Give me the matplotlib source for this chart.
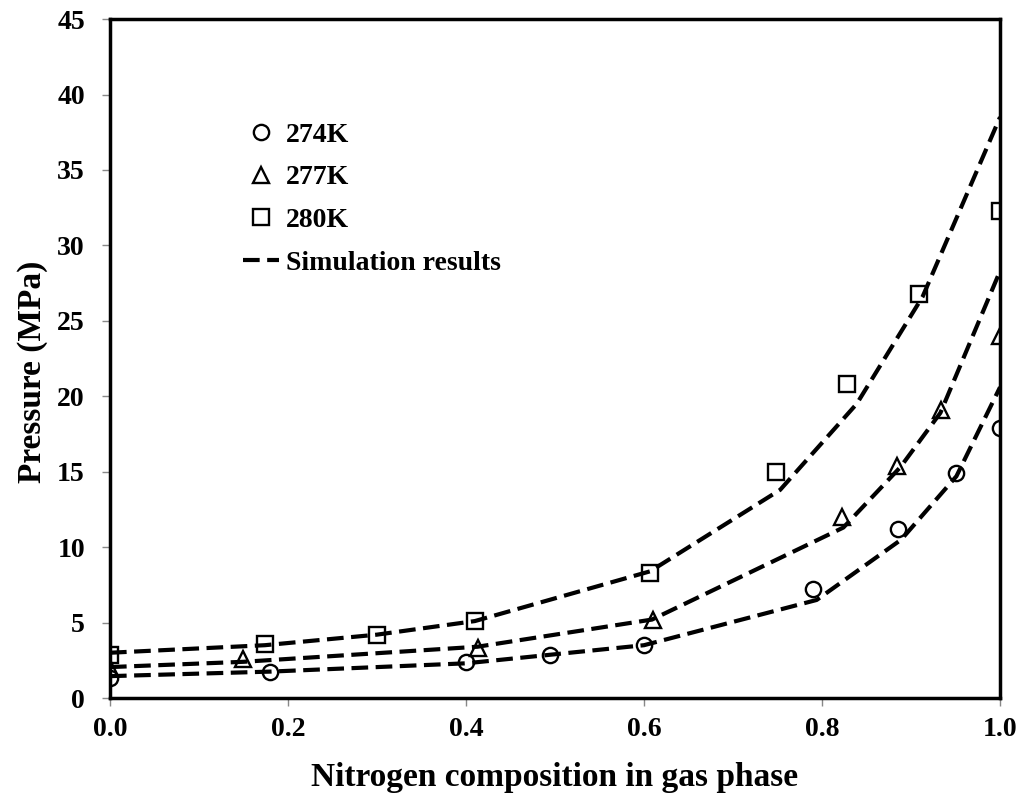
import matplotlib.pyplot as plt

# experimental points
x_274 = [0.0, 0.18, 0.40, 0.494, 0.60, 0.79, 0.885, 0.95, 1.0]
p_274 = [1.35, 1.72, 2.4, 2.85, 3.5, 7.2, 11.2, 14.9, 17.9]
x_277 = [0.0, 0.15, 0.413, 0.61, 0.822, 0.884, 0.934, 1.0]
p_277 = [2.0, 2.6, 3.3, 5.2, 12.0, 15.4, 19.1, 24.0]
x_280 = [0.0, 0.174, 0.30, 0.41, 0.607, 0.748, 0.828, 0.909, 1.0]
p_280 = [2.85, 3.6, 4.2, 5.1, 8.3, 15.0, 20.8, 26.8, 32.3]

# simulation curves
xs_274 = [0.0, 0.18, 0.40, 0.60, 0.794, 0.889, 0.951, 1.0]
ps_274 = [1.45, 1.75, 2.3, 3.5, 6.5, 10.5, 14.7, 20.6]
xs_277 = [0.0, 0.15, 0.413, 0.609, 0.824, 0.888, 0.933, 1.0]
ps_277 = [2.05, 2.4, 3.4, 5.2, 11.3, 15.3, 18.9, 28.3]
xs_280 = [0.0, 0.174, 0.30, 0.41, 0.607, 0.753, 0.839, 0.913, 1.0]
ps_280 = [3.0, 3.5, 4.2, 5.1, 8.4, 13.8, 19.5, 26.6, 38.5]

plt.rcParams['font.family'] = 'Liberation Serif'
plt.rcParams['font.weight'] = 'bold'

fig = plt.figure(figsize=(10.22, 7.96), dpi=100)
ax = fig.add_axes([0.1076, 0.1231, 0.8709, 0.8529])

mk = dict(linestyle='none', color='black', markerfacecolor='none', markersize=11, markeredgewidth=1.7)
ax.plot(x_274, p_274, marker='o', label='274K', **mk)
ax.plot(x_277, p_277, marker='^', label='277K', **mk)
ax.plot(x_280, p_280, marker='s', label='280K', **mk)

ln = dict(color='black', linewidth=3, dashes=(4, 1.8))
ax.plot(xs_274, ps_274, label='Simulation results', **ln)
ax.plot(xs_277, ps_277, **ln)
ax.plot(xs_280, ps_280, **ln)

ax.set_xlim(0, 1)
ax.set_ylim(0, 45)
ax.set_xticks([0, 0.2, 0.4, 0.6, 0.8, 1.0])
ax.set_xticklabels(['0.0', '0.2', '0.4', '0.6', '0.8', '1.0'])
ax.set_yticks(range(0, 46, 5))
ax.tick_params(direction='out', length=6, width=1, color='#888888', labelsize=20, pad=8)
ax.tick_params(axis='y', pad=12)
for s in ax.spines.values():
    s.set_linewidth(2.5)

ax.set_xlabel('Nitrogen composition in gas phase', fontsize=24, fontweight='bold', labelpad=14)
ax.set_ylabel('Pressure (MPa)', fontsize=24, fontweight='bold')
ax.yaxis.set_label_coords(-0.07, 0.48)

ax.legend(loc='upper left', bbox_to_anchor=(0.149, 0.848), frameon=False, fontsize=20,
          handlelength=1.3, labelspacing=0.62, handletextpad=0.25,
          borderpad=0, borderaxespad=0)

fig.savefig('out.png', dpi=100)
